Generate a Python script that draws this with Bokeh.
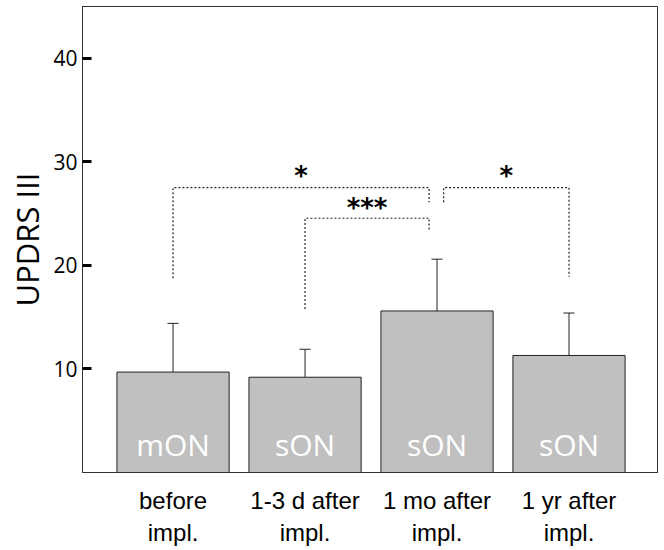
from bokeh.plotting import figure
from bokeh.models import Range1d, FixedTicker, Whisker, TeeHead, ColumnDataSource
from bokeh.core.properties import value
from bokeh.embed import file_html
from bokeh.resources import INLINE

# ---- data ----
positions = [1, 2, 3, 4]
categories = ["before\nimpl.", "1-3 d after\nimpl.", "1 mo after\nimpl.", "1 yr after\nimpl."]
conditions = ["mON", "sON", "sON", "sON"]
means = [9.7, 9.2, 15.6, 11.3]
upper = [14.4, 11.9, 20.6, 15.4]
y_ticks = [10, 20, 30, 40]

sig_labels = ["*", "***", "*"]
sig_x0 = [1, 2, 3.05]
sig_x1 = [2.94, 2.94, 4]
sig_y = [27.5, 24.55, 27.5]
sig_left_bottom = [18.75, 15.8, 26.1]
sig_right_bottom = [26.1, 23.3, 18.9]
sig_star_y = [28.65, 25.5, 28.65]

p = figure(width=658, height=548,
           x_range=Range1d(0.314, 4.678), y_range=Range1d(0, 45.0),
           output_backend="svg", toolbar_location=None,
           min_border_left=82, min_border_right=0, min_border_top=6, min_border_bottom=76)

p.xgrid.visible = False
p.ygrid.visible = False
p.outline_line_color = "#333333"
p.outline_line_width = 1
p.background_fill_color = "white"
p.border_fill_color = "white"

src = ColumnDataSource(dict(x=positions, mean=means, upper=upper, cond=conditions))

p.vbar(x="x", top="mean", bottom=0, width=0.85, source=src,
       fill_color="#c0c0c0", line_color="#222222", line_width=1)

w = Whisker(source=src, base="x", upper="upper", lower="mean", dimension="height",
            line_color="#222222", line_width=1,
            upper_head=TeeHead(size=11, line_color="#222222", line_width=1), lower_head=None)
p.add_layout(w)

p.text(x="x", y=2.75, text="cond", source=src, text_color="white",
       text_font=value("Open Sans"), text_font_size="30px",
       text_align="center", text_baseline="alphabetic")

# significance brackets
xs = [[a, a, b, b] for a, b in zip(sig_x0, sig_x1)]
ys = [[lb, y, y, rb] for lb, y, rb in zip(sig_left_bottom, sig_y, sig_right_bottom)]
p.multi_line(xs=xs, ys=ys, line_color="#222222", line_width=1.2, line_dash="2 2")
mids = [(a + b) / 2 for a, b in zip(sig_x0, sig_x1)]
p.text(x=mids, y=sig_star_y, text=sig_labels, text_color="black",
       text_font=value("DejaVu Sans"), text_font_style="bold", text_font_size="26px",
       text_align="center", text_baseline="alphabetic")

# axes
p.xaxis.ticker = FixedTicker(ticks=positions)
p.xaxis.major_label_overrides = {pos: lab for pos, lab in zip(positions, categories)}
p.xaxis.major_tick_in = 0
p.xaxis.major_tick_out = 0
p.xaxis.minor_tick_line_color = None
p.xaxis.axis_line_color = "#333333"
p.xaxis.major_label_text_font = "Liberation Sans"
p.xaxis.major_label_text_font_size = "24px"
p.xaxis.major_label_text_color = "black"
p.xaxis.major_label_standoff = 14

p.yaxis.ticker = FixedTicker(ticks=y_ticks)
p.yaxis.major_tick_in = 9
p.yaxis.major_tick_out = 0
p.yaxis.major_tick_line_width = 3
p.yaxis.major_tick_line_color = "black"
p.yaxis.minor_tick_line_color = None
p.yaxis.axis_line_color = "#333333"
p.yaxis.major_label_text_font = "Open Sans"
p.yaxis.major_label_text_font_size = "21px"
p.yaxis.major_label_text_color = "black"
p.yaxis.major_label_standoff = 5

p.yaxis.axis_label = "UPDRS III"
p.yaxis.axis_label_text_font = "Open Sans"
p.yaxis.axis_label_text_font_size = "31px"
p.yaxis.axis_label_text_font_style = "normal"
p.yaxis.axis_label_text_color = "black"
p.yaxis.axis_label_standoff = 2

open("out.html", "w").write(file_html(p, INLINE))
